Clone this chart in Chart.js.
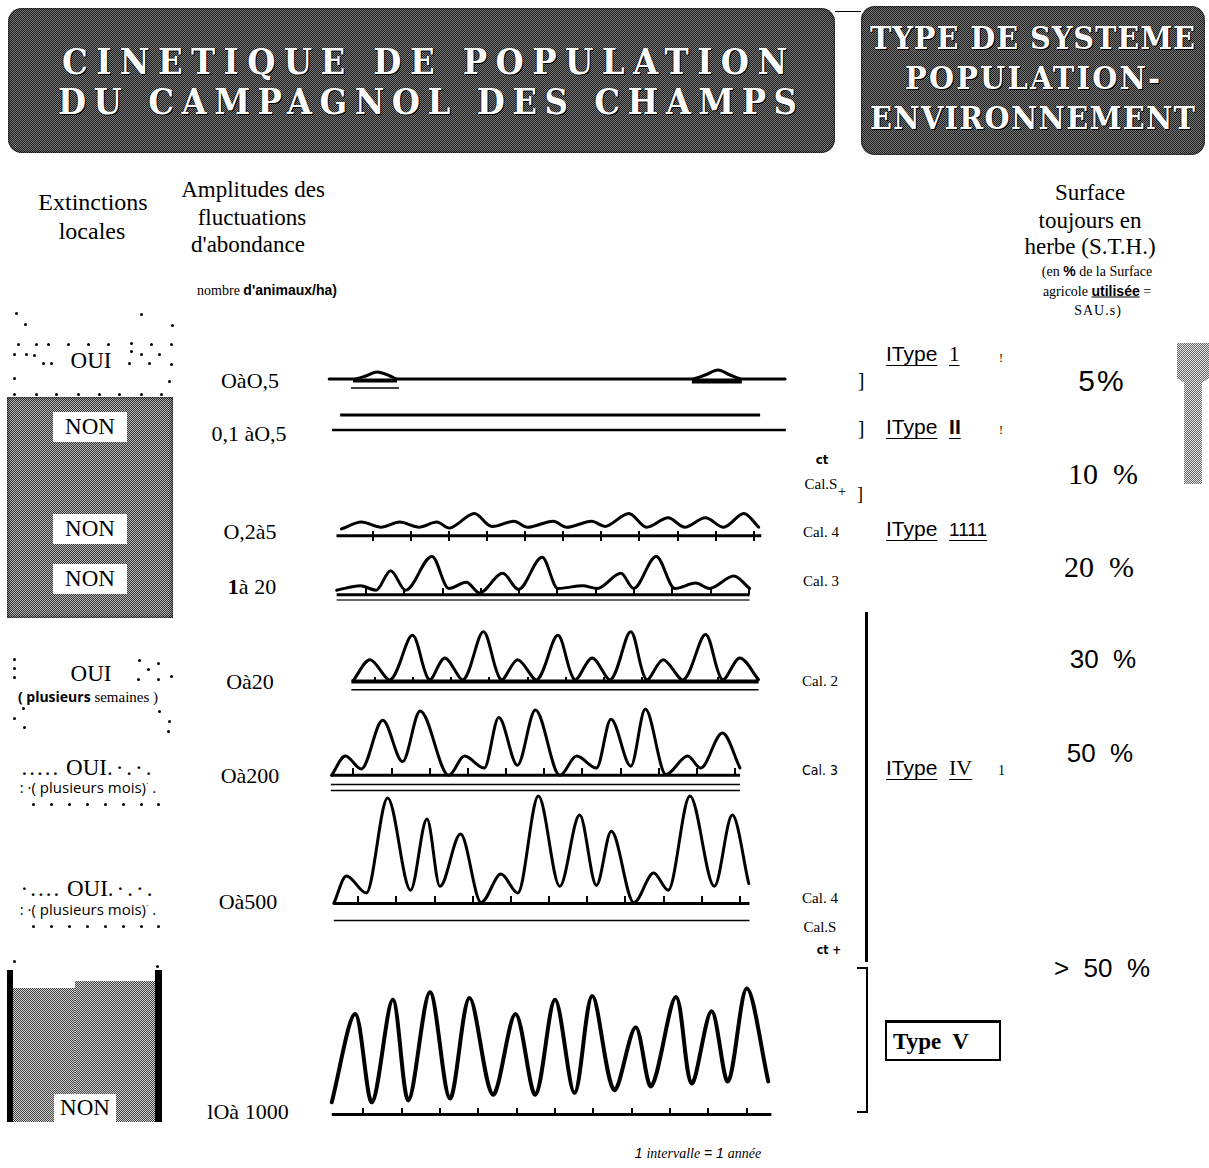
<!DOCTYPE html>
<html>
<head>
<meta charset="utf-8">
<script src="https://cdn.jsdelivr.net/npm/chart.js@4.4.1/dist/chart.umd.min.js"></script>
<style>
body{margin:0;width:1209px;height:1168px;position:relative;overflow:hidden;background:#fff;color:#000;font-family:"Liberation Serif","Times New Roman",serif}
.t{position:absolute;transform:translate(-50%,-50%);white-space:pre;line-height:1}
.l{position:absolute;white-space:pre;line-height:1}
.row{position:absolute}
.dot{position:absolute;width:3px;height:3px;background:#000;border-radius:50%}
.title{position:absolute;border-radius:14px;background:repeating-conic-gradient(#1c1c1c 0 25%,#7a7a7a 0 50%) 0 0/2px 2px;box-shadow:inset 0 0 3px #000}
.ttl{position:absolute;white-space:pre;line-height:1;color:#fff;font-family:"DejaVu Serif Condensed","DejaVu Serif",serif;font-weight:bold;font-stretch:condensed;text-shadow:1px 1px 0 #000,-1px 0 0 #222}
.gray{position:absolute;background:repeating-conic-gradient(#333 0 25%,#b8b8b8 0 50%) 0 0/2px 2px}
.non{position:absolute;background:#fff;font-size:23px;text-align:center;line-height:29px}
.ty{font-family:"Liberation Sans",Arial,sans-serif;font-size:21px}
.ty u{text-underline-offset:4px;text-decoration-thickness:1px}
.cal{font-size:15px}
.amp{font-size:22px}
.pc{font-family:"Liberation Sans",Arial,sans-serif;font-size:26px}
.pcs{font-size:30px}
.bar{position:absolute;background:#000}
</style>
</head>
<body>

<div class="title" style="left:8px;top:8px;width:827px;height:145px"></div>
<div class="ttl" id="tt1" style="left:62px;top:43px;font-size:36px">CINETIQUE DE POPULATION</div>
<div class="ttl" id="tt2" style="left:58px;top:83px;font-size:36px">DU CAMPAGNOL DES CHAMPS</div>
<div class="bar" style="left:835px;top:11px;width:26px;height:1px"></div>
<div class="title" style="left:861px;top:6px;width:344px;height:149px"></div>
<div class="ttl" id="tt3" style="left:870px;top:22px;font-size:32px">TYPE DE SYSTEME</div>
<div class="ttl" id="tt4" style="left:905px;top:62px;font-size:32px">POPULATION-</div>
<div class="ttl" id="tt5" style="left:870px;top:102px;font-size:32px">ENVIRONNEMENT</div>

<div class="t" style="left:93px;top:202px;font-size:24px">Extinctions</div>
<div class="t" style="left:92px;top:231px;font-size:24px">locales</div>
<div class="t" style="left:253px;top:189px;font-size:23px">Amplitudes des</div>
<div class="t" style="left:252px;top:217px;font-size:23px">fluctuations</div>
<div class="t" style="left:248px;top:244px;font-size:23px">d'abondance</div>
<div class="t" style="left:267px;top:290px;font-size:14px">nombre <b style="font-family:'Liberation Sans Narrow','Liberation Sans',sans-serif">d'animaux/ha)</b></div>

<div class="t" style="left:1090px;top:192px;font-size:23px">Surface</div>
<div class="t" style="left:1090px;top:220px;font-size:23px">toujours en</div>
<div class="t" style="left:1090px;top:246px;font-size:23px">herbe (S.T.H.)</div>
<div class="t" style="left:1097px;top:271px;font-size:14px">(en <b style="font-family:'Liberation Sans',sans-serif">%</b> de la Surface</div>
<div class="t" style="left:1097px;top:291px;font-size:14px">agricole <u><b style="font-family:'Liberation Sans Narrow',sans-serif">utilisée</b></u> =</div>
<div class="t" style="left:1098px;top:311px;font-size:14px;letter-spacing:1px">SAU.s)</div>

<!-- colonne extinctions -->
<div class="t" style="left:91px;top:360px;font-size:23px">OUI</div>
<div class="gray" style="left:7px;top:397px;width:166px;height:221px;box-shadow:inset 0 0 4px #111"></div>
<div class="non" style="left:53px;top:412px;width:74px;height:30px">NON</div>
<div class="non" style="left:53px;top:514px;width:74px;height:30px">NON</div>
<div class="non" style="left:53px;top:564px;width:74px;height:30px">NON</div>

<div class="t" style="left:91px;top:673px;font-size:23px">OUI</div>
<div class="t" style="left:88px;top:697px;font-size:15px"><b style="font-family:'Open Sans',sans-serif;font-size:14px">( plusieurs</b> semaines )</div>

<div class="t" style="left:88px;top:767px;font-size:23px"><span style="letter-spacing:2px">.....</span> OUI<span style="letter-spacing:3px">.·.·.</span></div>
<div class="t" style="left:88px;top:787px;font-size:15px;font-family:'Open Sans',sans-serif">: ·( plusieurs mois)<sup style="font-size:9px">·</sup> .</div>
<div class="t" style="left:88px;top:888px;font-size:23px"><span style="letter-spacing:2px">·....</span> OUI<span style="letter-spacing:3px">.·.·.</span></div>
<div class="t" style="left:88px;top:909px;font-size:15px;font-family:'Open Sans',sans-serif">: ·( plusieurs mois)<sup style="font-size:9px">·</sup> .</div>

<div class="bar" style="left:7px;top:970px;width:6px;height:152px"></div>
<div class="bar" style="left:155px;top:970px;width:7px;height:152px"></div>
<div class="gray" style="left:13px;top:988px;width:62px;height:134px;background:repeating-conic-gradient(#444 0 25%,#d0d0d0 0 50%) 0 0/2px 2px"></div>
<div class="gray" style="left:75px;top:981px;width:80px;height:141px;background:repeating-conic-gradient(#444 0 25%,#d0d0d0 0 50%) 0 0/2px 2px"></div>
<div class="non" style="left:54px;top:1094px;width:62px;height:28px;line-height:28px">NON</div>

<!-- amplitudes -->
<div class="t amp" style="left:250px;top:381px">OàO,5</div>
<div class="t amp" style="left:249px;top:434px">0,1 àO,5</div>
<div class="t amp" style="left:250px;top:532px">O,2à5</div>
<div class="t amp" style="left:252px;top:587px"><b>1</b>à 20</div>
<div class="t amp" style="left:250px;top:682px">Oà20</div>
<div class="t amp" style="left:250px;top:776px">Oà200</div>
<div class="t amp" style="left:248px;top:902px">Oà500</div>
<div class="t amp" style="left:248px;top:1112px">lOà 1000</div>

<!-- calibres -->
<div class="t" style="left:822px;top:459px;font-size:13px;font-weight:bold;font-family:'DejaVu Sans Condensed',sans-serif">ct</div>
<div class="t cal" style="left:821px;top:484px">Cal.S</div>
<div class="t" style="left:842px;top:491px;font-size:15px">+</div>
<div class="t" style="left:860px;top:494px;font-size:18px">]</div>
<div class="t cal" style="left:821px;top:532px">Cal. 4</div>
<div class="t cal" style="left:821px;top:581px">Cal. 3</div>
<div class="t cal" style="left:820px;top:681px">Cal. 2</div>
<div class="t cal" style="left:820px;top:770px;font-family:'DejaVu Sans Condensed',sans-serif;font-size:14px">Cal. 3</div>
<div class="t cal" style="left:820px;top:898px">Cal. 4</div>
<div class="t cal" style="left:820px;top:927px">Cal.S</div>
<div class="t" style="left:829px;top:950px;font-size:12px;font-weight:bold;font-family:'DejaVu Sans Condensed',sans-serif">ct +</div>

<div class="t" style="left:861px;top:380px;font-size:20px">]</div>
<div class="t" style="left:861px;top:428px;font-size:20px">]</div>

<!-- types -->
<div class="l ty" style="left:886px;top:343px"><u>ΙType</u>  <u style="font-family:'Liberation Serif',serif">1</u></div>
<div class="l" style="left:999px;top:352px;font-size:12px">!</div>
<div class="l ty" style="left:886px;top:416px"><u>ΙType</u>  <u style="font-weight:bold">II</u></div>
<div class="l" style="left:999px;top:424px;font-size:12px">!</div>
<div class="l ty" style="left:886px;top:518px"><u>ΙType</u>  <u style="font-size:19px">1111</u></div>
<div class="l ty" style="left:886px;top:757px"><u>ΙType</u>  <u style="font-family:'Liberation Serif',serif;font-size:22px">IV</u></div>
<div class="l" style="left:998px;top:764px;font-size:14px">1</div>
<div class="l" style="left:885px;top:1020px;border:2px solid #000;border-top-width:3px;font-weight:bold;font-size:23px;line-height:37px;padding-left:6px;box-sizing:border-box;width:116px;height:41px">Type  V</div>

<div class="bar" style="left:865px;top:612px;width:3px;height:350px"></div>
<div class="bar" style="left:857px;top:967px;width:11px;height:2px"></div>
<div class="bar" style="left:866px;top:967px;width:2px;height:146px"></div>
<div class="bar" style="left:857px;top:1111px;width:11px;height:2px"></div>

<!-- STH -->
<div class="t pc" style="left:1102px;top:381px;font-size:30px;letter-spacing:2px">5%</div>
<div class="t pcs" style="left:1103px;top:474px">10  %</div>
<div class="t pcs" style="left:1099px;top:567px">20  %</div>
<div class="t pc" style="left:1103px;top:659px">30  %</div>
<div class="t pc" style="left:1100px;top:753px">50  %</div>
<div class="t pc" style="left:1102px;top:968px">&gt;  50  %</div>
<div class="gray" style="left:1177px;top:343px;width:32px;height:141px;clip-path:polygon(0 0,100% 0,100% 25%,78% 28%,78% 100%,22% 100%,22% 28%,0 25%);background:repeating-conic-gradient(#666 0 25%,#e4e4e4 0 50%) 0 0/2px 2px"></div>

<div class="t" style="left:698px;top:1153px;font-size:14px;font-style:italic;font-family:'Liberation Sans',sans-serif">1 <span style="font-family:'Liberation Serif',serif">intervalle</span> = 1 <span style="font-family:'Liberation Serif',serif">année</span></div>

<script>
// x en années (1 intervalle = 1 année), y = abondance relative
const tickYears = [1, 2, 3, 4, 5, 6, 7, 8, 9, 10, 11];

// Type I : 0 à 0,5
const type1Years = [0.21, 0.82, 1.15, 1.44, 1.77, 1.95, 9.51, 9.85, 10.18, 10.49, 10.79, 11.9];
const type1Values = [0, 0, 3, 7, 3, 0, 0, 4, 9, 4, 0, 0];
const type1Bumps = [[0.82, 1.95], [9.51, 10.79]];

// Type II : 0,1 à 0,5 (deux niveaux constants)
const type2Upper = [0.49, 11.26];
const type2Lower = [0.28, 11.92];
const type2Levels = [15, 0];

// Cal. 4 : 0,2 à 5
const cal4Years = [0.17, 0.69, 1.21, 1.70, 2.21, 2.68, 3.02, 3.66, 4.10, 4.70, 5.06, 5.73, 6.09, 6.74, 7.12, 7.72, 8.18, 8.75, 9.19, 9.73, 10.22, 10.74, 11.13];
const cal4Values = [8, 16, 10, 16, 10, 16, 9, 26, 11, 17, 10, 17, 10, 17, 11, 26, 10, 21, 10, 21, 10, 26, 10];
const cal4Axis = [0.04, 11.2];

// Cal. 3 : 1 à 20
const cal3aYears = [0.23, 0.85, 1.26, 1.64, 2.03, 2.72, 3.16, 3.62, 3.96, 4.57, 4.98, 5.60, 6.01, 6.66, 7.04, 7.66, 7.99, 8.58, 9.07, 9.61, 9.97, 10.61, 11.02];
const cal3aValues = [5, 10, 5, 27, 5, 43, 7, 14, 2, 24, 6, 42, 7, 10, 7, 24, 7, 43, 7, 13, 7, 21, 7];
const cal3aAxis = [0.23, 11.02];

// Cal. 2 : 0 à 20
const cal2Years = [0.43, 0.87, 1.41, 1.98, 2.42, 2.83, 3.32, 3.84, 4.30, 4.74, 5.25, 5.79, 6.23, 6.69, 7.18, 7.70, 8.11, 8.55, 9.09, 9.66, 10.10, 10.56, 11.05];
const cal2Values = [1, 24, 2, 51, 2, 26, 2, 55, 2, 24, 2, 51, 2, 26, 2, 55, 2, 24, 2, 52, 2, 26, 2];
const cal2Axis = [0.38, 11.05];

// Cal. 3 : 0 à 200
const cal3bYears = [0.43, 0.79, 1.21, 1.77, 2.29, 2.75, 3.50, 3.91, 4.43, 4.81, 5.30, 5.77, 6.41, 6.85, 7.37, 7.75, 8.27, 8.65, 9.19, 9.76, 10.10, 10.67, 11.13];
const cal3bValues = [0, 21, 7, 60, 15, 70, 0, 21, 8, 63, 11, 71, 0, 21, 8, 61, 10, 72, 1, 21, 8, 46, 8];
const cal3bAxis = [0.41, 11.13];

// Cal. 4 / Cal. 5 et + : 0 à 500
const cal5Years = [0.36, 0.69, 1.21, 1.77, 2.37, 2.80, 3.14, 3.68, 4.22, 4.74, 5.18, 5.72, 6.28, 6.80, 7.24, 7.63, 8.22, 8.74, 9.12, 9.69, 10.33, 10.80, 11.23];
const cal5Values = [0, 29, 11, 111, 14, 89, 18, 73, 1, 31, 11, 113, 18, 93, 19, 76, 1, 32, 14, 113, 18, 93, 21];
const cal5Axis = [0.36, 11.25];
const cal5TopLine = [0.28, 11.0];

// Type V : 10 à 1000
const type5Years = [0.18, 0.79, 1.23, 1.77, 2.18, 2.74, 3.26, 3.77, 4.38, 4.97, 5.49, 6.00, 6.51, 6.97, 7.54, 8.10, 8.51, 9.15, 9.56, 10.08, 10.51, 11.00, 11.56];
const type5Values = [13, 106, 13, 121, 15, 129, 17, 123, 21, 106, 21, 121, 23, 125, 26, 92, 30, 124, 33, 109, 35, 133, 35];
const type5Axis = [0.18, 11.64];

const ROW_LEFT = 310, ROW_W = 490;

function tickImg(up, down, w) {
  const c = document.createElement('canvas');
  const half = Math.max(up, down);
  c.width = w; c.height = half * 2;
  const g = c.getContext('2d');
  g.fillStyle = '#000';
  g.fillRect(0, half - up, w, up + down);
  return c;
}

function curve(xs, ys, w, mono) {
  const ds = {data: xs.map((x, i) => ({x: x, y: ys[i]})), borderColor: '#000', borderWidth: w,
    pointRadius: 0, clip: false, fill: false, borderJoinStyle: 'round', borderCapStyle: 'round'};
  if (mono) ds.cubicInterpolationMode = 'monotone';
  else ds.tension = 0.32;
  return ds;
}
function seg(span, y, w, col) {
  return {data: [{x: span[0], y: y}, {x: span[1], y: y}], borderColor: col || '#000', borderWidth: w,
    pointRadius: 0, tension: 0, clip: false, fill: false};
}
function ticks(years, img) {
  return {data: years.map(x => ({x: x, y: 0})), showLine: false, pointStyle: img, pointRadius: 3,
    borderWidth: 0, clip: false};
}

function row(cfg, datasets) {
  const box = document.createElement('div');
  box.className = 'row';
  box.style.left = ROW_LEFT + 'px';
  box.style.top = cfg.top + 'px';
  box.style.width = ROW_W + 'px';
  box.style.height = cfg.height + 'px';
  const cv = document.createElement('canvas');
  box.appendChild(cv);
  document.body.appendChild(box);
  new Chart(cv, {
    type: 'line',
    data: {datasets: datasets},
    options: {
      responsive: true, maintainAspectRatio: false, animation: false, events: [],
      layout: {padding: 0},
      plugins: {legend: {display: false}, tooltip: {enabled: false}},
      scales: {
        x: {type: 'linear', display: false, min: (ROW_LEFT - cfg.t0) / cfg.step, max: (ROW_LEFT + ROW_W - cfg.t0) / cfg.step},
        y: {type: 'linear', display: false, min: cfg.axis - cfg.top - cfg.height, max: cfg.axis - cfg.top}
      }
    }
  });
}

const cross = tickImg(5, 5, 2);
const up7 = tickImg(7, 0, 2);
const up5 = tickImg(5, 0, 2);

// Type I
row({top: 355, height: 45, axis: 379, t0: 321, step: 39}, [
  curve(type1Years, type1Values, 3, true),
  seg(type1Bumps[0], -1.5, 4), seg(type1Bumps[1], -2, 5),
  seg([type1Bumps[0][0] - 0.05, type1Bumps[0][1] + 0.05], -9, 1.5)
]);
// Type II
row({top: 400, height: 45, axis: 430, t0: 321, step: 39}, [
  seg(type2Upper, type2Levels[0], 3), seg(type2Lower, type2Levels[1], 2.5)
]);
// Cal. 4
row({top: 495, height: 55, axis: 538, t0: 331.3, step: 38.7}, [
  curve(cal4Years, cal4Values, 3), seg(cal4Axis, 0, 3), ticks(tickYears, cross)
]);
// Cal. 3
row({top: 540, height: 72, axis: 597, t0: 324.1, step: 38.9}, [
  curve(cal3aYears, cal3aValues, 3, true), seg(cal3aAxis, 0, 3), seg(cal3aAxis, -6, 1.5, '#333'), ticks(tickYears, up7)
]);
// Cal. 2
row({top: 615, height: 85, axis: 684, t0: 333.2, step: 38.8}, [
  curve(cal2Years, cal2Values, 3), seg(cal2Axis, 0, 4), seg(cal2Axis, -9, 1.5), ticks(tickYears, up5)
]);
// Cal. 3 (0 à 200)
row({top: 695, height: 100, axis: 778, t0: 311.2, step: 38.8}, [
  curve(cal3bYears, cal3bValues, 3, true), seg(cal3bAxis, 0, 3), seg(cal3bAxis, -10, 1.5), ticks(tickYears, up7)
]);
// Cal. 4 / 5 et +
row({top: 775, height: 160, axis: 906, t0: 316.2, step: 38.8}, [
  curve(cal5Years, cal5Values, 3, true), seg(cal5Axis, 0, 3), seg(cal5TopLine, 119, 1.5), seg(cal5Axis, -18, 1.5), ticks(tickYears, up7)
]);
// Type V
row({top: 975, height: 155, axis: 1118, t0: 321, step: 39}, [
  curve(type5Years, type5Values, 4), seg(type5Axis, 0, 3), ticks(tickYears, up7)
]);

// titres : étirement des lettres à la largeur de l'original
function fit(id, w) {
  const el = document.getElementById(id);
  const n = el.textContent.length;
  const w0 = el.getBoundingClientRect().width;
  el.style.letterSpacing = ((w - w0) / (n - 1)) + 'px';
}
fit('tt1', 725); fit('tt2', 739); fit('tt3', 325); fit('tt4', 255); fit('tt5', 325);

// points décoratifs (pointillés autour des OUI)
const dotPos = [[15,312],[24,323],[140,313],[171,324],[17,343],[35,343],[47,343],[67,343],[87,343],[107,343],[130,342],[150,343],[170,343],
  [13,353],[25,353],[33,354],[42,362],[50,362],[130,350],[140,353],[158,353],[128,362],[148,362],[170,363],[13,377],[168,380],
  [13,393],[35,393],[55,393],[77,393],[98,393],[118,393],[140,393],[160,393],
  [13,658],[13,667],[13,676],[138,659],[157,662],[147,668],[137,678],[157,678],[170,675],[22,707],[13,717],[23,726],[158,710],[168,720],[167,730],
  [32,803],[50,803],[68,803],[86,803],[104,803],[122,803],[140,803],[157,803],
  [32,925],[50,925],[68,925],[86,925],[104,925],[122,925],[140,925],[157,925],[13,960],[156,965]];
dotPos.forEach(p => {
  const d = document.createElement('div');
  d.className = 'dot';
  d.style.left = p[0] + 'px';
  d.style.top = p[1] + 'px';
  document.body.appendChild(d);
});
</script>
</body>
</html>
